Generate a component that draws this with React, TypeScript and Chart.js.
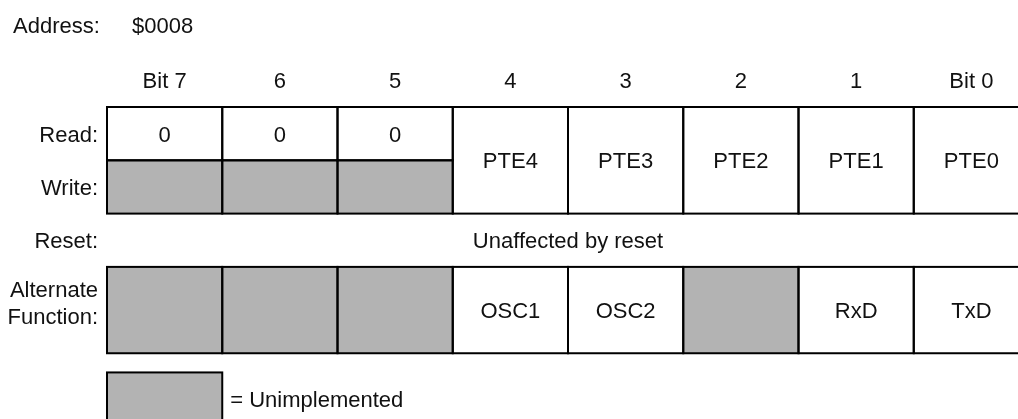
import React, { useEffect, useRef } from "react";
import { Chart, registerables } from "chart.js";

Chart.register(...registerables);

// ---- data ----
const bitLabels = ["Bit 7", "6", "5", "4", "3", "2", "1", "Bit 0"];
const readBits = ["0", "0", "0", null, null, null, null, null];
const writeUnimplemented = [true, true, true, false, false, false, false, false];
const readWriteBits = [null, null, null, "PTE4", "PTE3", "PTE2", "PTE1", "PTE0"];
const altFunctions = [null, null, null, "OSC1", "OSC2", null, "RxD", "TxD"];
const rowLabels = ["Read:", "Write:", "Reset:"];
const altRowLabel = ["Alternate", "Function:"];
const resetText = "Unaffected by reset";
const addressLabel = "Address:";
const addressValue = "$0008";
const legendText = "= Unimplemented";

// row bands on the y axis (row units)
const readBand = [0, 1];
const writeBand = [1, 2];
const resetBand = [2, 3];
const altBand = [3, 4.62];
const legendBand = [4.98, 7];

const GRAY = "#b3b3b3";
const WHITE = "#ffffff";
const FONT = '22px "Liberation Sans", Arial, Helvetica, sans-serif';

export default function App() {
  const ref = useRef<HTMLCanvasElement | null>(null);

  useEffect(() => {
    if (!ref.current) return;
    const cellText: (string | null)[][] = [readBits, [], readWriteBits, altFunctions, []];

    const drawText = (ctx: CanvasRenderingContext2D, t: string, x: number, cy: number, align: CanvasTextAlign) => {
      ctx.textAlign = align;
      ctx.textBaseline = "alphabetic";
      ctx.fillText(t, x, cy + 8);
    };

    const plugin = {
      id: "registerText",
      afterDatasetsDraw(chart: any) {
        const ctx: CanvasRenderingContext2D = chart.ctx;
        const xs = chart.scales.x;
        const ys = chart.scales.y;
        const area = chart.chartArea;
        ctx.save();
        ctx.strokeStyle = "#000";
        ctx.lineWidth = 2;
        chart.data.datasets.forEach((ds: any, di: number) => {
          const meta = chart.getDatasetMeta(di);
          meta.data.forEach((el: any, i: number) => {
            if (ds.data[i] == null) return;
            const p = el.getProps(["x", "y", "base", "width"], true);
            const l = p.x - p.width / 2;
            const top = Math.min(p.y, p.base);
            const bot = Math.max(p.y, p.base);
            ctx.strokeRect(l, top, p.width, bot - top);
            const t = cellText[di][i];
            if (t) {
              ctx.fillStyle = "#111";
              ctx.font = FONT;
              drawText(ctx, t, p.x, (top + bot) / 2, "center");
            }
          });
        });
        ctx.fillStyle = "#111";
        ctx.font = FONT;
        // column headers
        bitLabels.forEach((b, i) => {
          drawText(ctx, b, xs.getPixelForValue(i), ys.getPixelForValue(-0.5), "center");
        });
        // row labels
        const labelX = area.left - 9;
        const bands = [readBand, writeBand, resetBand];
        rowLabels.forEach((r, i) => {
          const c = ys.getPixelForValue((bands[i][0] + bands[i][1]) / 2);
          drawText(ctx, r, labelX, c, "right");
        });
        const altC = ys.getPixelForValue((altBand[0] + altBand[1]) / 2);
        drawText(ctx, altRowLabel[0], labelX, altC - 21, "right");
        drawText(ctx, altRowLabel[1], labelX, altC + 6, "right");
        // reset text
        drawText(ctx, resetText, (area.left + area.right) / 2, ys.getPixelForValue((resetBand[0] + resetBand[1]) / 2), "center");
        // address
        drawText(ctx, addressLabel, 13, 25, "left");
        drawText(ctx, addressValue, 132, 25, "left");
        // legend
        const lx = xs.getPixelForValue(0) + (xs.getPixelForValue(1) - xs.getPixelForValue(0)) / 2 + 8;
        drawText(ctx, legendText, lx, ys.getPixelForValue(legendBand[0] + 0.5), "left");
        ctx.restore();
      },
    };

    const chart = new Chart(ref.current, {
      type: "bar",
      data: {
        labels: bitLabels,
        datasets: [
          {
            label: "Read",
            data: readBits.map((v) => (v != null ? readBand : null)) as any,
            backgroundColor: WHITE,
          },
          {
            label: "Write",
            data: writeUnimplemented.map((u) => (u ? writeBand : null)) as any,
            backgroundColor: GRAY,
          },
          {
            label: "Read/Write",
            data: readWriteBits.map((v) => (v != null ? [readBand[0], writeBand[1]] : null)) as any,
            backgroundColor: WHITE,
          },
          {
            label: "Alternate Function",
            data: altFunctions.map(() => altBand) as any,
            backgroundColor: altFunctions.map((v) => (v ? WHITE : GRAY)),
          },
          {
            label: "Unimplemented",
            data: bitLabels.map((_, i) => (i === 0 ? legendBand : null)) as any,
            backgroundColor: GRAY,
          },
        ],
      },
      options: {
        responsive: false,
        animation: false,
        devicePixelRatio: 1,
        layout: { padding: { left: 107, top: 107, right: 11, bottom: 0 } },
        datasets: { bar: { grouped: false, barPercentage: 1, categoryPercentage: 1, borderWidth: 0 } } as any,
        plugins: { legend: { display: false }, tooltip: { enabled: false } },
        scales: {
          x: { display: false },
          y: { display: false, min: 0, max: 6.06, reverse: true },
        },
      },
      plugins: [plugin],
    });
    return () => chart.destroy();
  }, []);

  return (
    <div style={{ position: "fixed", left: 0, top: 0, width: 1018, height: 419, overflow: "hidden", background: "#fff" }}>
      <canvas ref={ref} width={1040} height={430} style={{ display: "block", width: 1040, height: 430 }} />
    </div>
  );
}
